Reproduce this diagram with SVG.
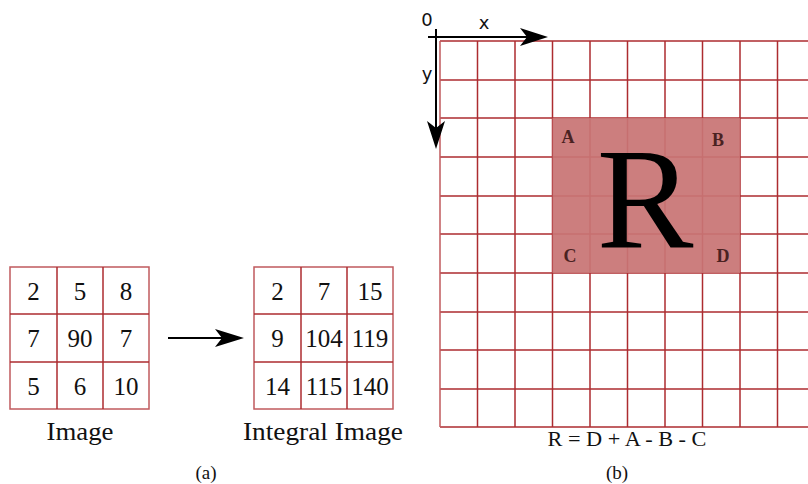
<svg xmlns="http://www.w3.org/2000/svg" width="808" height="484" viewBox="0 0 808 484">
<style>
.g{stroke:#ad2c30;stroke-width:1.5;fill:none}
.gl{stroke:#c05a5d;stroke-width:1.5;fill:none}
.n{font-family:"Liberation Serif","Times New Roman",serif;font-size:25px;fill:#111;text-anchor:middle}
.lbl{font-family:"Liberation Serif","Times New Roman",serif;fill:#111;text-anchor:middle}
.ax{font-family:"DejaVu Sans","Liberation Sans",sans-serif;font-size:18px;fill:#111;text-anchor:middle}
.c{font-family:"Liberation Serif","Times New Roman",serif;font-size:18px;font-weight:bold;fill:#4a2222;text-anchor:middle}
.ah{fill:#000}
</style>
<rect width="808" height="484" fill="#fff"/>

<g id="image">
<rect x="10" y="267" width="139" height="142" class="gl"/>
<path d="M57,267V409M103,267V409M10,314H149M10,362H149" class="g"/>
<text class="n" x="33.5" y="300">2</text>
<text class="n" x="80" y="300">5</text>
<text class="n" x="126" y="300">8</text>
<text class="n" x="33.5" y="347">7</text>
<text class="n" x="80" y="347">90</text>
<text class="n" x="126" y="347">7</text>
<text class="n" x="33.5" y="395">5</text>
<text class="n" x="80" y="395">6</text>
<text class="n" x="126" y="395">10</text>
<text class="lbl" x="80" y="440" font-size="25" textLength="67" lengthAdjust="spacingAndGlyphs">Image</text>
</g>

<g id="integral-image">
<rect x="254" y="267" width="139" height="142" class="gl"/>
<path d="M301,267V409M347,267V409M254,314H393M254,362H393" class="g"/>
<text class="n" x="277.5" y="300">2</text>
<text class="n" x="324" y="300">7</text>
<text class="n" x="370" y="300">15</text>
<text class="n" x="277.5" y="347">9</text>
<text class="n" x="324" y="347">104</text>
<text class="n" x="370" y="347">119</text>
<text class="n" x="277.5" y="395">14</text>
<text class="n" x="324" y="395">115</text>
<text class="n" x="370" y="395">140</text>
<text class="lbl" x="323" y="440" font-size="25" textLength="160" lengthAdjust="spacingAndGlyphs">Integral Image</text>
</g>

<g id="connectors">
<path d="M168,338H230" stroke="#000" stroke-width="2"/>
<path d="M244,338L215,329L222,338L215,347Z" class="ah"/>
</g>

<text class="lbl" x="206" y="479" font-size="19">(a)</text>

<g id="coordinate-grid">
<path class="g" d="M440,41H808M440,80H808M440,118H808M440,157H808M440,196H808M440,234H808M440,273H808M440,312H808M440,350H808M440,389H808M440,427H808"/>
<path class="g" d="M477.5,41V427M515,41V427M552.5,41V427M590,41V427M627.5,41V427M665,41V427M702.5,41V427M740,41V427M777.5,41V427"/>
<path class="gl" d="M440,41V427"/>
</g>

<g id="region-R">
<rect x="552.5" y="118" width="187.5" height="155" fill="#c87474" fill-opacity="0.93"/>
<text x="645" y="247" font-family="Liberation Serif,'Times New Roman',serif" font-size="145" fill="#000" text-anchor="middle">R</text>
<text class="c" x="568" y="143">A</text>
<text class="c" x="718" y="146">B</text>
<text class="c" x="570" y="262">C</text>
<text class="c" x="723" y="262">D</text>
</g>

<g id="axes">
<path d="M428,37H530M436,29V135" stroke="#000" stroke-width="2" fill="none"/>
<path d="M548,37L520,28L527,37L520,46Z" class="ah"/>
<path d="M436,149L427,121L436,128L445,121Z" class="ah"/>
<text class="ax" x="427" y="26">0</text>
<text class="ax" x="484" y="29">x</text>
<text class="ax" x="427" y="80">y</text>
</g>

<text class="lbl" x="627" y="446" font-size="21" textLength="159" lengthAdjust="spacingAndGlyphs">R = D + A - B - C</text>
<text class="lbl" x="617" y="479" font-size="19">(b)</text>
</svg>
